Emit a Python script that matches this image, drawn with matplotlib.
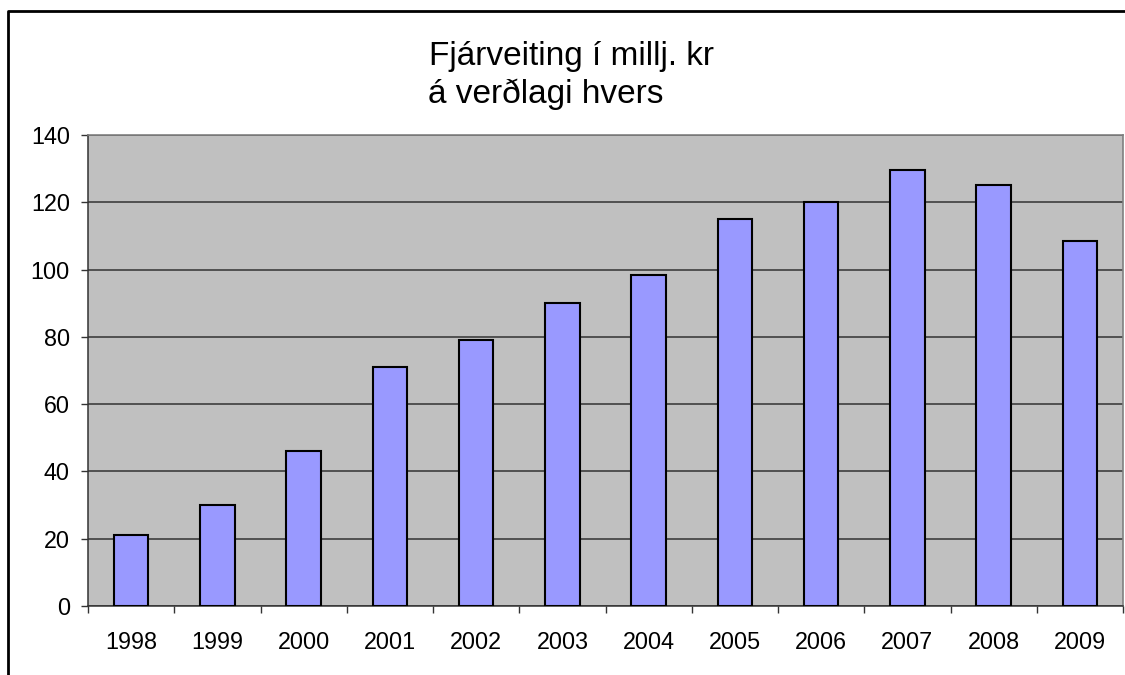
import numpy as np
import matplotlib
matplotlib.use("Agg")
import matplotlib.pyplot as plt
from matplotlib.lines import Line2D

plt.rcParams['font.family'] = ['Liberation Sans', 'DejaVu Sans']

years = ['1998', '1999', '2000', '2001', '2002', '2003',
         '2004', '2005', '2006', '2007', '2008', '2009']
values = [21, 30, 46, 71, 79, 90, 98.5, 115, 120, 129.5, 125, 108.5]
title_lines = ['Fjárveiting í millj. kr', 'á verðlagi hvers']

W, H = 1125, 675
fig = plt.figure(figsize=(W / 100, H / 100), dpi=100)
fig.patch.set_facecolor('white')

# plot area in pixel coords: x 88..1123, y 135..606
ax = fig.add_axes([88 / W, 1 - 606 / H, (1123 - 88) / W, (606 - 135) / H])
ax.set_facecolor('#C0C0C0')

x = np.arange(len(years))
ax.bar(x, values, width=0.4, color='#9999FF', edgecolor='black', linewidth=1.5, zorder=3)

ax.set_xlim(-0.5, len(years) - 0.5)
ax.set_ylim(0, 140)
ax.set_yticks(np.arange(0, 141, 20))
ax.set_xticks(x)
ax.set_xticklabels(years)
ax.set_xticks(np.arange(-0.5, len(years), 1), minor=True)

ax.yaxis.grid(True, color='#333333', linewidth=1.1, zorder=1)
ax.set_axisbelow(True)

ax.tick_params(axis='x', which='major', length=0, pad=18, labelsize=16.8)
ax.tick_params(axis='x', which='minor', length=5, width=1, color='#333333')
ax.tick_params(axis='y', which='major', length=5, width=1, color='#333333', pad=8, labelsize=16.8)

for side in ['top', 'right']:
    ax.spines[side].set_color('#808080')
    ax.spines[side].set_linewidth(1.2)
for side in ['left', 'bottom']:
    ax.spines[side].set_color('#333333')
    ax.spines[side].set_linewidth(1.1)

fig.text(429 / W, 1 - 65 / H, title_lines[0], fontsize=24, ha='left', va='baseline')
fig.text(428 / W, 1 - 103 / H, title_lines[1], fontsize=24, ha='left', va='baseline')

# chart outer border (left and top visible)
fig.add_artist(Line2D([8 / W, 8 / W, 1.0], [0.0, 1 - 11 / H, 1 - 11 / H],
                      transform=fig.transFigure, color='black', linewidth=2))

fig.savefig('out.png', dpi=100, facecolor='white')
